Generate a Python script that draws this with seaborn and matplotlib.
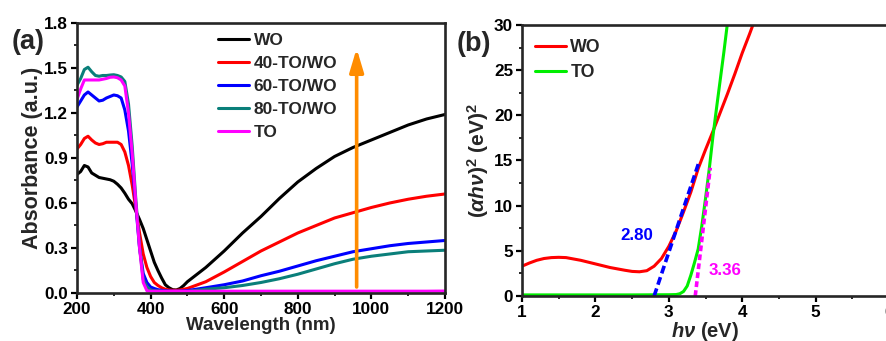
import numpy as np
import pandas as pd
import matplotlib
matplotlib.use("Agg")
import matplotlib.pyplot as plt
from matplotlib.ticker import MultipleLocator, FormatStrFormatter
import seaborn as sns

# ---------------- (a) UV-vis-NIR absorbance ----------------
wavelength = [200, 210, 220, 230, 240, 250, 260, 270, 280, 290, 300, 310, 320,
              330, 340, 350, 360, 370, 380, 390, 400, 410, 420, 430, 440, 450,
              460, 470, 480, 490, 500, 550, 600, 650, 700, 750, 800, 850, 900,
              950, 1000, 1050, 1100, 1150, 1200]

abs_wo = [0.79, 0.81, 0.85, 0.84, 0.80, 0.785, 0.77, 0.765, 0.76, 0.755, 0.745,
          0.725, 0.70, 0.665, 0.625, 0.595, 0.545, 0.49, 0.43, 0.355, 0.28,
          0.205, 0.15, 0.10, 0.055, 0.035, 0.022, 0.02, 0.03, 0.05, 0.075,
          0.17, 0.28, 0.40, 0.51, 0.63, 0.74, 0.83, 0.91, 0.97, 1.02, 1.07,
          1.12, 1.16, 1.19]

abs_40 = [0.96, 0.99, 1.03, 1.045, 1.02, 1.0, 0.99, 0.995, 1.005, 1.005, 1.005,
          1.005, 0.99, 0.94, 0.85, 0.72, 0.56, 0.40, 0.26, 0.17, 0.11, 0.07,
          0.05, 0.035, 0.025, 0.02, 0.018, 0.018, 0.02, 0.025, 0.03, 0.075,
          0.14, 0.21, 0.28, 0.34, 0.40, 0.45, 0.50, 0.535, 0.57, 0.60, 0.625,
          0.645, 0.66]

abs_60 = [1.24, 1.28, 1.32, 1.34, 1.32, 1.30, 1.28, 1.285, 1.30, 1.31, 1.32,
          1.315, 1.30, 1.22, 1.08, 0.86, 0.58, 0.30, 0.13, 0.07, 0.04, 0.03,
          0.022, 0.018, 0.015, 0.013, 0.012, 0.012, 0.013, 0.014, 0.016, 0.035,
          0.055, 0.08, 0.115, 0.145, 0.18, 0.215, 0.245, 0.275, 0.295, 0.315,
          0.33, 0.34, 0.35]

abs_80 = [1.385, 1.43, 1.49, 1.505, 1.475, 1.45, 1.445, 1.45, 1.45, 1.453,
          1.455, 1.45, 1.44, 1.41, 1.26, 0.98, 0.62, 0.31, 0.09, 0.04, 0.02,
          0.015, 0.013, 0.012, 0.011, 0.01, 0.01, 0.01, 0.01, 0.01, 0.01, 0.025,
          0.035, 0.05, 0.07, 0.095, 0.125, 0.16, 0.195, 0.225, 0.245, 0.26,
          0.275, 0.28, 0.285]

abs_to = [1.29, 1.36, 1.42, 1.42, 1.42, 1.42, 1.42, 1.425, 1.43, 1.438, 1.44,
          1.435, 1.42, 1.38, 1.20, 0.93, 0.60, 0.30, 0.07, 0.015, 0.012, 0.012,
          0.012, 0.012, 0.012, 0.012, 0.012, 0.012, 0.012, 0.012, 0.012, 0.012,
          0.012, 0.012, 0.012, 0.012, 0.012, 0.012, 0.012, 0.012, 0.012, 0.012,
          0.012, 0.012, 0.013]

series_a = ["WO", "40-TO/WO", "60-TO/WO", "80-TO/WO", "TO"]
colors_a = ["#000000", "#FF0000", "#0000FF", "#0A7F7A", "#FF00FF"]

arrow_x = 960
arrow_y = (0.04, 1.63)

# ---------------- (b) Tauc plot ----------------
energy_wo = [1.0, 1.1, 1.2, 1.3, 1.4, 1.5, 1.6, 1.7, 1.8, 1.9, 2.0, 2.1, 2.2,
             2.3, 2.4, 2.5, 2.6, 2.7, 2.8, 2.9, 3.0, 3.1, 3.2, 3.3, 3.4, 3.5,
             3.6, 3.7, 3.8, 3.9, 4.0, 4.1, 4.2]
tauc_wo = [3.3, 3.65, 3.95, 4.15, 4.25, 4.28, 4.25, 4.1, 3.95, 3.75, 3.55,
           3.35, 3.15, 3.0, 2.85, 2.72, 2.68, 2.8, 3.3, 4.15, 5.5, 7.2, 9.3,
           11.5, 14.1, 16.2, 18.2, 20.3, 22.4, 24.6, 26.9, 29.0, 31.2]

energy_to = [1.0, 1.5, 2.0, 2.5, 3.0, 3.1, 3.15, 3.2, 3.25, 3.3, 3.35, 3.4,
             3.45, 3.5, 3.55, 3.6, 3.65, 3.7, 3.75, 3.8, 3.85]
tauc_to = [0.12, 0.12, 0.12, 0.12, 0.14, 0.16, 0.25, 0.5, 1.1, 2.3, 3.7, 5.2,
           7.8, 10.8, 14.0, 17.6, 20.8, 23.9, 27.0, 30.3, 33.5]

# linear extrapolations of the absorption edges
fit_wo_x = [2.80, 3.41]
fit_wo_y = [0.0, 14.8]
fit_to_x = [3.36, 3.565]
fit_to_y = [0.0, 14.2]
gap_wo = "2.80"
gap_to = "3.36"

# ---------------- style ----------------
sns.set_style("ticks")
plt.rcParams["font.family"] = ["Liberation Sans", "DejaVu Sans"]
plt.rcParams["font.weight"] = "bold"
plt.rcParams["axes.labelweight"] = "bold"
plt.rcParams["mathtext.fontset"] = "custom"
plt.rcParams["mathtext.it"] = "Liberation Sans:italic:bold"
plt.rcParams["mathtext.rm"] = "Liberation Sans:bold"
plt.rcParams["mathtext.bf"] = "Liberation Sans:bold"

fig = plt.figure(figsize=(8.86, 3.41), dpi=100)
ax1 = fig.add_axes([0.0869, 0.1408, 0.4153, 0.7918])
ax2 = fig.add_axes([0.5892, 0.132, 0.4142, 0.7947])


def style_axes(ax):
    for sp in ax.spines.values():
        sp.set_linewidth(1.9)
        sp.set_visible(True)
    ax.tick_params(which="major", direction="out", length=4.5, width=1.6,
                   labelsize=12.3, pad=2, colors="black")
    ax.tick_params(which="minor", direction="out", length=2.5, width=1.4)
    ax.tick_params(top=False, right=False)
    ax.set_facecolor("white")


# ---- panel (a)
for name, vals, c in zip(series_a, [abs_wo, abs_40, abs_60, abs_80, abs_to], colors_a):
    sns.lineplot(x=wavelength, y=vals, ax=ax1, color=c, lw=2.2, label=name)

ax1.annotate("", xy=(arrow_x, arrow_y[1]), xytext=(arrow_x, arrow_y[0]),
             arrowprops=dict(arrowstyle="-|>,head_length=1.4,head_width=0.42",
                             color="#FF8C00", lw=2.6, mutation_scale=10,
                             shrinkA=0, shrinkB=0))

ax1.set_xlim(200, 1200)
ax1.set_ylim(0, 1.8)
ax1.xaxis.set_major_locator(MultipleLocator(200))
ax1.xaxis.set_minor_locator(MultipleLocator(100))
ax1.yaxis.set_major_locator(MultipleLocator(0.3))
ax1.yaxis.set_minor_locator(MultipleLocator(0.15))
ax1.yaxis.set_major_formatter(FormatStrFormatter("%.1f"))
style_axes(ax1)
ax1.set_xlabel("Wavelength (nm)", fontsize=13.5, labelpad=0)
ax1.set_ylabel("Absorbance (a.u.)", fontsize=15.5, labelpad=1)
ax1.legend(loc="upper left", bbox_to_anchor=(0.383, 0.962), frameon=False,
           fontsize=12.5, handlelength=1.8, handletextpad=0.25, labelspacing=0.45,
           borderpad=0, borderaxespad=0)

# ---- panel (b)
sns.lineplot(x=energy_wo, y=tauc_wo, ax=ax2, color="#FF0000", lw=2.2, label="WO")
sns.lineplot(x=energy_to, y=tauc_to, ax=ax2, color="#00EE00", lw=2.2, label="TO")
sns.lineplot(x=fit_wo_x, y=fit_wo_y, ax=ax2, color="#0000FF", lw=2.6)
ax2.lines[-1].set_dashes([2.2, 1.1])
sns.lineplot(x=fit_to_x, y=fit_to_y, ax=ax2, color="#FF00FF", lw=2.6)
ax2.lines[-1].set_dashes([1.6, 0.9])

ax2.text(2.57, 6.7, gap_wo, color="#0000FF", fontsize=12.2, fontweight="bold",
         ha="center", va="center")
ax2.text(3.76, 2.8, gap_to, color="#FF00FF", fontsize=12.2, fontweight="bold",
         ha="center", va="center")

ax2.set_xlim(1, 6)
ax2.set_ylim(0, 30)
ax2.xaxis.set_major_locator(MultipleLocator(1))
ax2.xaxis.set_minor_locator(MultipleLocator(0.5))
ax2.yaxis.set_major_locator(MultipleLocator(5))
ax2.yaxis.set_minor_locator(MultipleLocator(2.5))
style_axes(ax2)
ax2.set_xlabel(r"$h\nu$ (eV)", fontsize=14.5, labelpad=0)
ax2.set_ylabel(r"$(\alpha h\nu)^2$ (eV)$^2$", fontsize=15, labelpad=2)
ax2.legend(loc="upper left", bbox_to_anchor=(0.035, 0.947), frameon=False,
           fontsize=12.8, handlelength=1.75, handletextpad=0.25, labelspacing=0.42,
           borderpad=0, borderaxespad=0)

fig.text(0.0316, 0.877, "(a)", fontsize=19.5, fontweight="bold", ha="center", va="center")
fig.text(0.535, 0.872, "(b)", fontsize=19.5, fontweight="bold", ha="center", va="center")

fig.savefig("out.png", dpi=100, facecolor="white")
